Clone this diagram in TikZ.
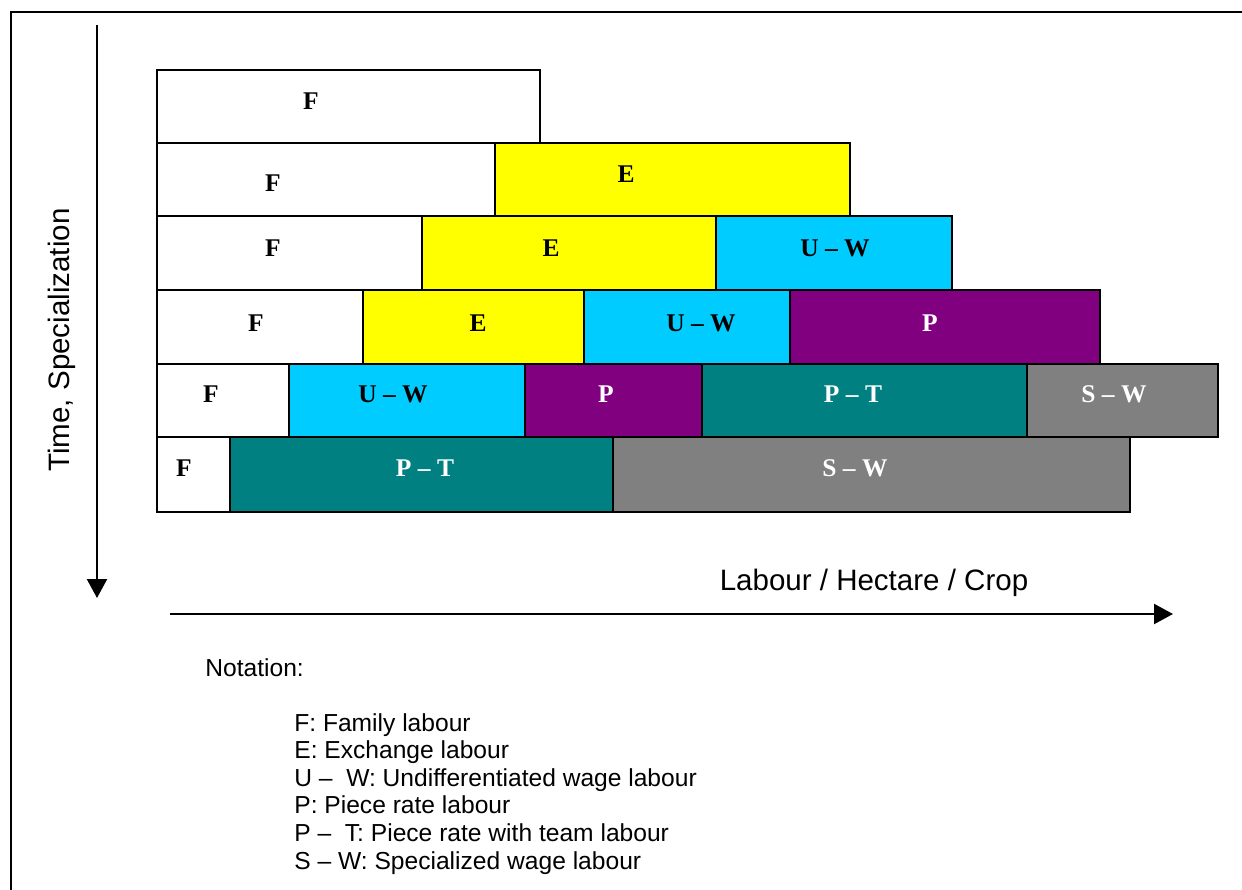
\documentclass[tikz,border=0pt]{standalone}
\usepackage{fontspec}
\setmainfont{Liberation Serif}
\setsansfont{Liberation Sans}
\usetikzlibrary{arrows.meta}

\definecolor{exyellow}{HTML}{FFFF00}
\definecolor{wagecyan}{HTML}{00CCFF}
\definecolor{piecepurple}{HTML}{800080}
\definecolor{teamteal}{HTML}{008080}
\definecolor{specgrey}{HTML}{808080}

\tikzset{
  frame/.style={line width=1.5pt},
  blk/.style={draw=black,line width=1.4pt},
  lbl/.style={font=\fontsize{14.5}{17}\selectfont\bfseries,inner sep=0pt},
  axis/.style={line width=1.3pt,-{Triangle[length=0.38cm,width=0.4cm]}},
  axlbl/.style={font=\sffamily\fontsize{16.8}{20}\selectfont},
  notel/.style={font=\sffamily\fontsize{14}{15.7}\selectfont,align=left,inner sep=0pt}
}

\begin{document}
\begin{tikzpicture}[x=0.02cm,y=-0.02cm]
  \useasboundingbox (0,0) rectangle (1242,890);
  % outer frame
  \draw[frame] (11,890) -- (11,12) -- (1242,12);
  % labour blocks, one row per stage
  \foreach \xa/\xb/\ya/\yb/\fc/\lx/\ly/\txt/\tc [count=\i] in {
    157/540/70/143/white/311/101/F/black,
    157/495/143/216/white/273/183/F/black,
    495/850/143/216/exyellow/626/174/E/black,
    157/422/216/290/white/273/248/F/black,
    422/716/216/290/exyellow/551/248/E/black,
    716/952/216/290/wagecyan/835/248/U -- W/black,
    157/363/290/364/white/256/323/F/black,
    363/584/290/364/exyellow/478/323/E/black,
    584/790/290/364/wagecyan/701/323/U -- W/black,
    790/1100/290/364/piecepurple/930/323/P/white,
    157/289/364/437/white/211/394/F/black,
    289/525/364/437/wagecyan/393/394/U -- W/black,
    525/702/364/437/piecepurple/606/394/P/white,
    702/1027/364/437/teamteal/853/394/P -- T/white,
    1027/1218/364/437/specgrey/1114/394/S -- W/white,
    157/230/437/512/white/184/468/F/black,
    230/613/437/512/teamteal/425/468/P -- T/white,
    613/1130/437/512/specgrey/855/468/S -- W/white}{%
    \draw[blk,fill=\fc] (\xa,\ya) rectangle (\xb,\yb);
    \node[lbl,text=\tc] (L-\i) at (\lx,\ly) {\txt};
  }
  % axes
  \coordinate (T-a) at (97,25);
  \coordinate (T-b) at (97,598);
  \coordinate (H-a) at (170,614);
  \coordinate (H-b) at (1173,614);
  \draw[axis] (T-a) -- (T-b);
  \draw[axis] (H-a) -- (H-b);
  \node[axlbl,rotate=90] (time) at (62,340) {Time,\ Specialization};
  \node[axlbl] (hect) at (874,583) {Labour / Hectare / Crop};
  % notation
  \node[notel,anchor=west] (notation) at (205,668) {Notation:};
  \node[notel,anchor=north west] (legend) at (294,713) {%
    F: Family labour\\
    E: Exchange labour\\
    U --\ \ W: Undifferentiated wage labour\\
    P: Piece rate labour\\
    P --\ \ T: Piece rate with team labour\\
    S -- W: Specialized wage labour};
\end{tikzpicture}
\end{document}
